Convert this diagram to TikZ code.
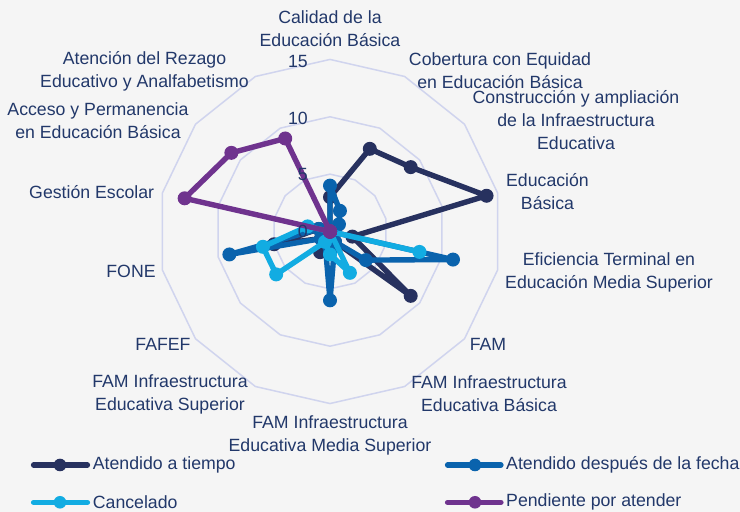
\documentclass[tikz,border=0pt]{standalone}
\usepackage{fontspec}
\setmainfont{Liberation Sans}
\definecolor{txt}{HTML}{22386A}
\definecolor{cA}{HTML}{27315F}
\definecolor{cB}{HTML}{0A63AD}
\definecolor{cC}{HTML}{12ACE2}
\definecolor{cD}{HTML}{6F338E}
\definecolor{gridc}{HTML}{D0D4EE}
\definecolor{bgc}{HTML}{F5F5F5}
\newcommand\radarseries[3]{%
  \foreach \v [count=\i from 0] in {#3} {
    \coordinate (#1\i) at ({90-\i*360/14}:{\v*11.47});
  }
  \draw[serline=#2] (#10) \foreach \i in {1,...,13}{ -- (#1\i) } -- cycle;
  \foreach \i in {0,...,13} \fill[#2] (#1\i) circle (7);
}
\begin{document}
\begin{tikzpicture}[x=1bp,y=1bp,
  lbl/.style={font=\fontsize{17.7bp}{23bp}\selectfont, text=txt, align=center, inner sep=0pt},
  serline/.style={line width=5.4bp, line join=round, draw=#1},
  legline/.style={line width=5.2bp, line cap=round, draw=#1},
  gridline/.style={draw=gridc, line width=1.5bp, line join=round}]
\fill[bgc] (0,0) rectangle (740,512);
\useasboundingbox (0,0) rectangle (740,512);
\coordinate (C) at (330,280.5);
\begin{scope}[shift={(C)}]
  \foreach \r in {5,10,15}
    \draw[gridline] (90:{\r*11.47}) \foreach \k in {1,...,13}{ -- ({90-\k*360/14}:{\r*11.47}) } -- cycle;
  \radarseries{A}{cA}{3,8,9,14,2,9,1,1,2,1,5,1,0,0}
  \radarseries{B}{cB}{4,2,1,0,11,4,1,6,1,1,9,1,0,0}
  \radarseries{C}{cC}{0,0,0,0,8,0,4,2,1,6,6,2,0,0}
  \radarseries{D}{cD}{0,0,0,0,0,0,0,0,0,0,0,13,11,9}
\end{scope}
% ring labels
\node[lbl, anchor=east] (r15) at (308,450.3) {15};
\node[lbl, anchor=east] (r10) at (308,393.7) {10};
\node[lbl, anchor=east] (r5) at (308,337) {5};
\node[lbl, anchor=east] (r0) at (308,280.3) {0};
% category labels
\node[lbl] (l0) at (330,483) {Calidad de la\\Educación Básica};
\node[lbl] (l1) at (500,441) {Cobertura con Equidad\\en Educación Básica};
\node[lbl] (l2) at (576,391.5) {Construcción y ampliación\\de la Infraestructura\\Educativa};
\node[lbl] (l3) at (547.5,320) {Educación\\Básica};
\node[lbl] (l4) at (609,239.7) {Eficiencia Terminal en\\Educación Media Superior};
\node[lbl] (l5) at (488,168) {FAM};
\node[lbl] (l6) at (489,118) {FAM Infraestructura\\Educativa Básica};
\node[lbl] (l7) at (330,76.5) {FAM Infraestructura\\Educativa Media Superior};
\node[lbl] (l8) at (170,118) {FAM Infraestructura\\Educativa Superior};
\node[lbl] (l9) at (163,168) {FAFEF};
\node[lbl] (l10) at (131,241) {FONE};
\node[lbl] (l11) at (91.7,320.3) {Gestión Escolar};
\node[lbl] (l12) at (98,391.5) {Acceso y Permanencia\\en Educación Básica};
\node[lbl] (l13) at (144.5,441) {Atención del Rezago\\Educativo y Analfabetismo};
% legend
\coordinate (la1) at (33.5,47); \coordinate (la2) at (87.5,47); \coordinate (lam) at (60,47);
\draw[legline=cA] (la1) -- (la2); \fill[cA] (lam) circle (6.3);
\node[lbl, anchor=west] (ta) at (92.7,47) {Atendido a tiempo};
\coordinate (lc1) at (33.5,9.7); \coordinate (lc2) at (87.5,9.7); \coordinate (lcm) at (60,9.7);
\draw[legline=cC] (lc1) -- (lc2); \fill[cC] (lcm) circle (6.3);
\node[lbl, anchor=west] (tc) at (92.7,9.7) {Cancelado};
\coordinate (lb1) at (447.5,47); \coordinate (lb2) at (501,47); \coordinate (lbm) at (475,47);
\draw[legline=cB] (lb1) -- (lb2); \fill[cB] (lbm) circle (6.3);
\node[lbl, anchor=west] (tb) at (506,47) {Atendido después de la fecha};
\coordinate (ld1) at (447.5,9.7); \coordinate (ld2) at (501,9.7); \coordinate (ldm) at (475,9.7);
\draw[legline=cD] (ld1) -- (ld2); \fill[cD] (ldm) circle (6.3);
\node[lbl, anchor=west] (td) at (506,9.7) {Pendiente por atender};
\end{tikzpicture}
\end{document}
